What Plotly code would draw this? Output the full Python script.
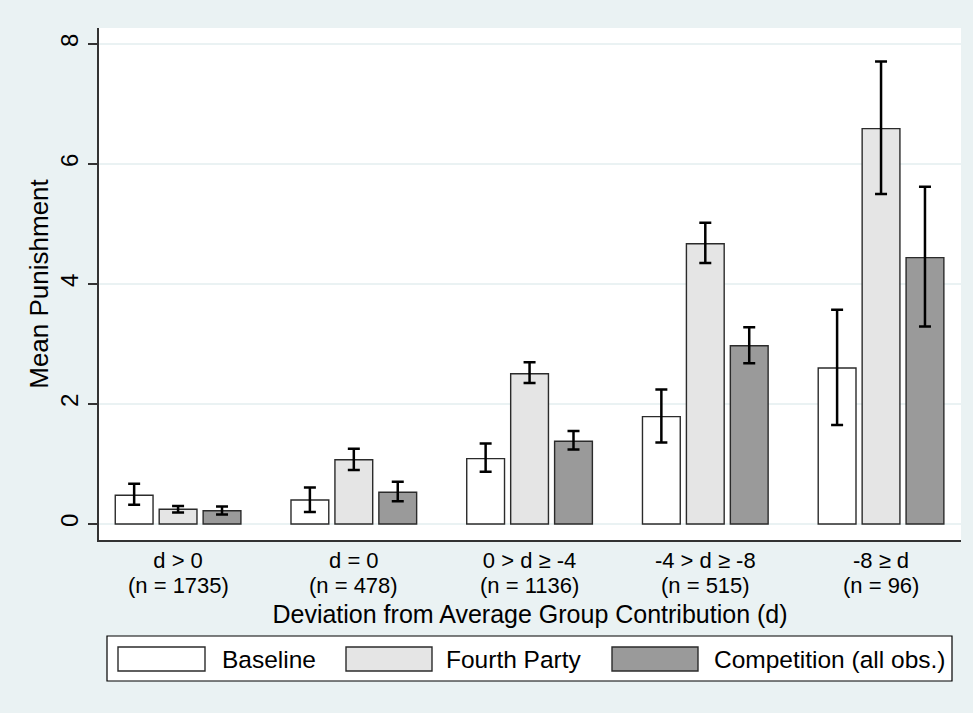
import plotly.graph_objects as go

# Deviation categories and counts
categories = ["d > 0", "d = 0", "0 > d \u2265 -4", "-4 > d \u2265 -8", "-8 \u2265 d"]
counts = ["(n = 1735)", "(n = 478)", "(n = 1136)", "(n = 515)", "(n = 96)"]

# Mean punishment with confidence bounds, per treatment
baseline_mean = [0.48, 0.40, 1.09, 1.79, 2.60]
baseline_hi = [0.67, 0.61, 1.34, 2.24, 3.57]
baseline_lo = [0.32, 0.20, 0.87, 1.36, 1.65]

fourth_mean = [0.245, 1.07, 2.505, 4.67, 6.59]
fourth_hi = [0.30, 1.255, 2.695, 5.02, 7.71]
fourth_lo = [0.19, 0.90, 2.35, 4.35, 5.50]

comp_mean = [0.22, 0.53, 1.38, 2.97, 4.44]
comp_hi = [0.29, 0.705, 1.55, 3.28, 5.62]
comp_lo = [0.16, 0.38, 1.24, 2.68, 3.29]

series_names = ["Baseline", "Fourth Party", "Competition (all obs.)"]
series_fill = ["#FFFFFF", "#E5E5E5", "#9A9A9A"]

FONT = "Liberation Sans, Arial, sans-serif"
BG = "#EAF2F3"
W, H = 973, 713
ML, MR, MT, MB = 99, 12, 28, 173
PW, PH = W - ML - MR, H - MT - MB


def px_x(px):
    return (px - ML) / PW


def px_y(py):
    return (H - MB - py) / PH


x_pos = list(range(len(categories)))
fig = go.Figure()

for name, fill, mean, hi, lo in zip(
    series_names,
    series_fill,
    [baseline_mean, fourth_mean, comp_mean],
    [baseline_hi, fourth_hi, comp_hi],
    [baseline_lo, fourth_lo, comp_lo],
):
    fig.add_trace(
        go.Bar(
            x=x_pos,
            y=mean,
            name=name,
            marker=dict(color=fill, line=dict(color="#2b2b2b", width=1.4)),
            error_y=dict(
                type="data",
                symmetric=False,
                array=[h - m for h, m in zip(hi, mean)],
                arrayminus=[m - l for m, l in zip(mean, lo)],
                color="black",
                thickness=2.5,
                width=6,
            ),
            showlegend=False,
        )
    )

# Second line of category labels (group sizes)
annotations = []
for xi, c in zip(x_pos, counts):
    annotations.append(
        dict(
            x=xi, y=px_y(585), xref="x", yref="paper",
            text=c, showarrow=False, xanchor="center", yanchor="middle",
            font=dict(family=FONT, size=22, color="black"),
        )
    )

# Legend box drawn as shapes with text labels
shapes = [
    dict(
        type="rect", xref="paper", yref="paper",
        x0=px_x(107), x1=px_x(952), y0=px_y(681), y1=px_y(636),
        fillcolor="white", line=dict(color="black", width=1.2), layer="below",
    )
]
swatch_x = [(118, 205), (346, 432), (612, 698)]
label_x = [220, 444, 712]
for (sx0, sx1), lx, name, fill in zip(swatch_x, label_x, series_names, series_fill):
    shapes.append(
        dict(
            type="rect", xref="paper", yref="paper",
            x0=px_x(sx0), x1=px_x(sx1), y0=px_y(671), y1=px_y(647),
            fillcolor=fill, line=dict(color="#2b2b2b", width=1.4),
        )
    )
    annotations.append(
        dict(
            x=px_x(lx), y=px_y(659), xref="paper", yref="paper",
            text=name, showarrow=False, xanchor="left", yanchor="middle",
            font=dict(family=FONT, size=24.5, color="black"),
        )
    )

fig.update_layout(
    width=W,
    height=H,
    margin=dict(l=ML, r=MR, t=MT, b=MB, pad=0),
    paper_bgcolor=BG,
    plot_bgcolor="white",
    barmode="group",
    bargap=0.25,
    bargroupgap=0.14,
    font=dict(family=FONT, size=22, color="black"),
    shapes=shapes,
    annotations=annotations,
    xaxis=dict(
        range=[-0.45, 4.455],
        tickmode="array",
        tickvals=x_pos,
        ticktext=categories,
        ticks="",
        showgrid=False,
        zeroline=False,
        showline=True,
        linecolor="#333333",
        linewidth=1.5,
        tickfont=dict(family=FONT, size=22, color="black"),
        title=dict(
            text="Deviation from Average Group Contribution (d)",
            font=dict(family=FONT, size=25, color="black"),
            standoff=33,
        ),
    ),
    yaxis=dict(
        range=[-0.267, 8.267],
        tickmode="array",
        tickvals=[0, 2, 4, 6, 8],
        ticktext=["0", "2", "4", "6", "8"],
        tickangle=-90,
        ticks="outside",
        ticklen=9,
        tickwidth=1.5,
        tickcolor="#333333",
        showgrid=True,
        gridcolor=BG,
        gridwidth=1.5,
        zeroline=False,
        showline=True,
        linecolor="#333333",
        linewidth=2,
        tickfont=dict(family=FONT, size=24, color="black"),
        title=dict(
            text="Mean Punishment",
            font=dict(family=FONT, size=26, color="black"),
            standoff=0,
        ),
    ),
)

fig.write_html("out.html")
